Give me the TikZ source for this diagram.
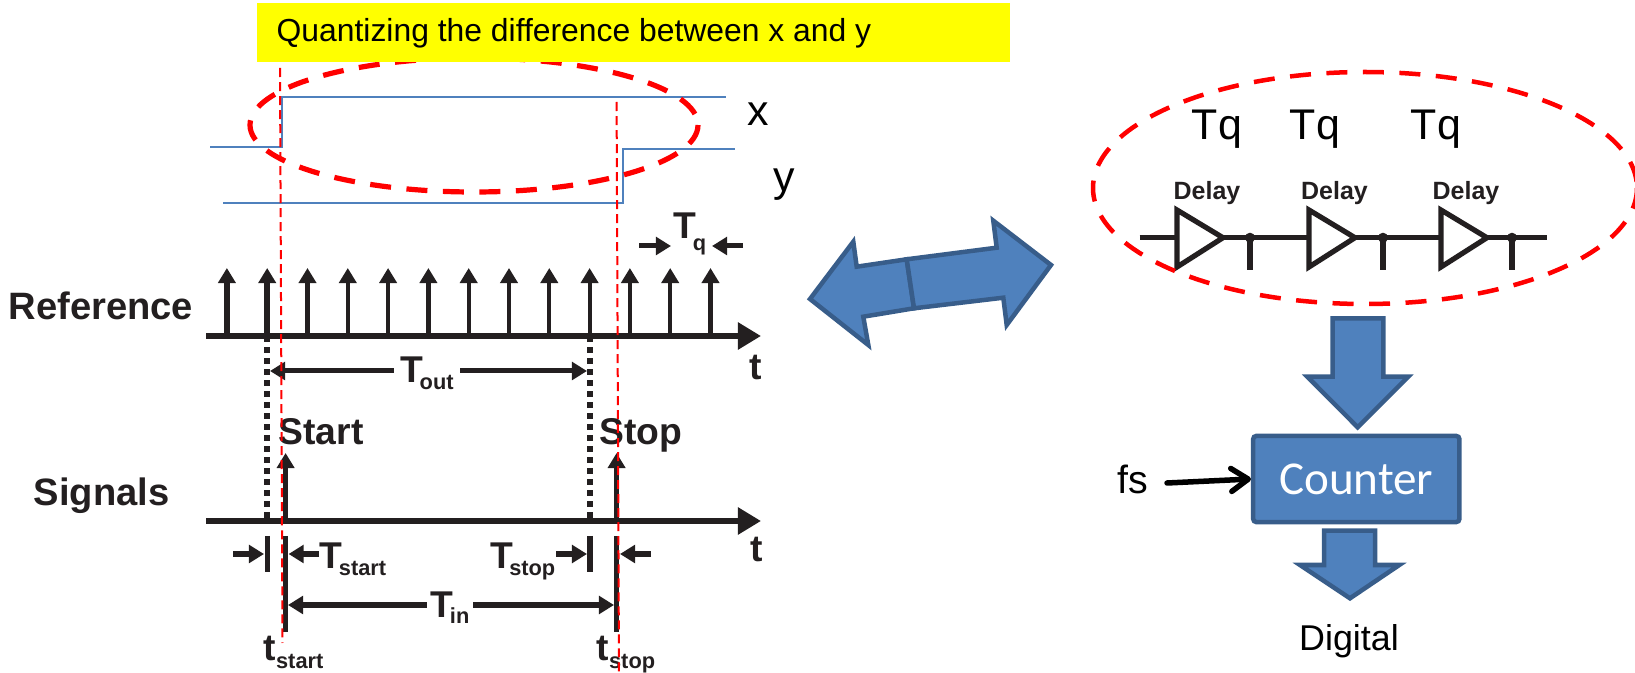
\documentclass[tikz,border=0pt]{standalone}
\usepackage{fontspec}
\setmainfont{Liberation Sans}
\newfontfamily\counterfont{Carlito}
\usetikzlibrary{arrows.meta}

\definecolor{inkdark}{HTML}{231F20}
\definecolor{blockblue}{HTML}{4F81BD}
\definecolor{blockedge}{HTML}{385D8A}
\definecolor{titleyellow}{HTML}{FFFF00}
\definecolor{ovalred}{HTML}{FF0000}

\newcommand{\lowsub}[2][0.7mm]{\raisebox{-#1}{\fontsize{6.2}{7}\selectfont #2}}
\newcommand{\Tlabel}[2][0.7mm]{T\kern-0.35mm\lowsub[#1]{#2}}

\tikzset{
    every node/.style={inner sep=0, text=inkdark},
    boldlabel/.style={font=\fontsize{10.6}{12}\bfseries\selectfont},
    sidelabel/.style={font=\fontsize{10.85}{12}\bfseries\selectfont},
    plainlabel/.style={font=\fontsize{12.2}{14}\selectfont, text=black},
    delaylabel/.style={font=\fontsize{7.1}{9}\bfseries\selectfont},
    axisline/.style={inkdark, line width=0.55mm, -{Triangle[length=2.3mm,width=2.6mm]}},
    pulseline/.style={inkdark, -{Triangle[length=1.5mm,width=1.7mm]}},
    dimline/.style={inkdark, line width=0.5mm, -{Triangle[length=1.5mm,width=1.75mm]}},
    barline/.style={inkdark, line width=0.52mm},
    dotline/.style={inkdark, line width=0.6mm, dash pattern=on 0.55mm off 0.55mm},
    waveline/.style={blockblue, line width=0.2mm},
    redthin/.style={ovalred, line width=0.2mm, dash pattern=on 0.9mm off 0.5mm},
    redoval/.style={ovalred, line width=0.45mm, dash pattern=on 2.1mm off 1.55mm},
    blockarrow/.style={fill=blockblue, draw=blockedge, line width=0.45mm},
}

\begin{document}
\begin{tikzpicture}[x=0.01cm, y=-0.01cm]
    \useasboundingbox (0,0) rectangle (1635,673);

    % waveforms
    \draw[waveline] (210,147) -- (282,147) -- (282,97) -- (726,97);
    \draw[waveline] (223,203) -- (623,203) -- (623,149) -- (735,149);
    \draw[redoval, line width=0.52mm] (474,125) ellipse [x radius=224, y radius=67];

    \fill[titleyellow] (257,3) rectangle (1010,62);
    \node[anchor=base west, font=\fontsize{9.06}{11}\selectfont, text=black] (title) at (276,42) {Quantizing the difference between x and y};
    \node[plainlabel, anchor=base] (xlabel) at (758,126) {x};
    \node[plainlabel, anchor=base] (ylabel) at (784,192) {y};

    % reference pulses
    \coordinate (refstart) at (206,336);
    \coordinate (refend) at (761,336);
    \draw[axisline] (refstart) -- (refend);
    \foreach \n in {0,...,12} {
        \pgfmathsetmacro{\pw}{\n<2 ? 0.55 : 0.42}
        \coordinate (pulse\n) at ({226.9+40.3*\n},336);
        \draw[pulseline, line width=\pw mm] (pulse\n) -- ++(0,-68);
    }
    \node[sidelabel, anchor=base west] (reference) at (8,320) {Reference};
    \node[boldlabel, anchor=base] (treference) at (756,380) {t};

    \node[boldlabel, anchor=base west] (tq) at (673,239) {\Tlabel[1.1mm]{q}};
    \coordinate (tqleft) at (639,246);
    \coordinate (tqlefttip) at (671,246);
    \coordinate (tqright) at (743,246);
    \coordinate (tqrighttip) at (712,246);
    \draw[dimline] (tqleft) -- (tqlefttip);
    \draw[dimline] (tqright) -- (tqrighttip);

    % dotted guides
    \coordinate (guideA) at (267,521);
    \coordinate (guideB) at (590,521);
    \draw[dotline] (267,336) -- (guideA);
    \draw[dotline] (590,336) -- (guideB);

    \node[boldlabel, anchor=base, inner xsep=0.6mm] (tout) at (427,383) {\Tlabel{out}};
    \coordinate (toutleft) at (270,371);
    \coordinate (toutright) at (587,371);
    \draw[dimline] (tout.west |- toutleft) -- (toutleft);
    \draw[dimline] (tout.east |- toutright) -- (toutright);

    % signals
    \coordinate (sigstart) at (206,521);
    \coordinate (sigend) at (761,521);
    \draw[axisline] (sigstart) -- (sigend);
    \coordinate (startbase) at (285.6,521);
    \coordinate (stopbase) at (616.6,521);
    \draw[pulseline, line width=0.45mm] (startbase) -- ++(0,-68);
    \draw[pulseline, line width=0.45mm] (stopbase) -- ++(0,-68);
    \node[boldlabel, anchor=base west] (startlabel) at (278,445) {Start};
    \node[boldlabel, anchor=base west] (stoplabel) at (599,445) {Stop};
    \node[sidelabel, anchor=base west] (signals) at (33,505) {Signals};
    \node[boldlabel, anchor=base] (tsignals) at (757,561) {t};

    % bars under the axis
    \draw[barline] (267.5,536) -- (267.5,572);
    \draw[barline] (590,536) -- (590,572);
    \draw[barline] (285.6,536) -- (285.6,632);
    \draw[barline] (616.6,536) -- (616.6,632);

    \node[boldlabel, anchor=base west] (tstart) at (319,568) {\Tlabel{start}};
    \node[boldlabel, anchor=base east] (tstop) at (556,568) {\Tlabel{stop}};
    \coordinate (startout) at (233,554);
    \coordinate (startoutB) at (264,554);
    \coordinate (startin) at (288.6,554);
    \coordinate (stopin) at (587,554);
    \coordinate (stopout) at (651,554);
    \coordinate (stopoutB) at (620,554);
    \draw[dimline] (startout) -- (startoutB);
    \draw[dimline] (tstart.west |- startin) -- (startin);
    \draw[dimline] (tstop.east |- stopin) -- (stopin);
    \draw[dimline] (stopout) -- (stopoutB);

    \node[boldlabel, anchor=base, inner xsep=0.3mm] (tin) at (450,617) {\Tlabel[0.6mm]{in}};
    \coordinate (tinleft) at (288,605);
    \coordinate (tinright) at (614,605);
    \draw[dimline] (tin.west |- tinleft) -- (tinleft);
    \draw[dimline] (tin.east |- tinright) -- (tinright);

    \node[boldlabel, anchor=base west] (tlstart) at (263,661) {t\lowsub{start}};
    \node[boldlabel, anchor=base west] (tlstop) at (596,661) {t\lowsub{stop}};

    \draw[redthin] (280,68) -- (282.5,643);
    \draw[redthin] (616.6,102) -- (619,673);

    % double arrow
    \draw[blockarrow, line join=miter] (906.7,259.3) -- (856.7,266.7) -- (853.3,241.7) -- (810,299) -- (868.3,345) -- (863.3,316.7) -- (914,308.3) -- cycle;
    \draw[blockarrow, line join=miter] (906.7,259.3) -- (996.7,247.7) -- (993.3,220.7) -- (1051,265) -- (1006.7,325) -- (1003.3,297.7) -- (914,308.3) -- cycle;

    % delay line
    \coordinate (linestart) at (1139.5,237.7);
    \coordinate (lineend) at (1547,237.7);
    \draw[barline] (linestart) -- (lineend);
    \foreach \tx/\dx/\lx/\tqx/\nm in {1177/1250/1207/1217/A, 1309/1383/1334.5/1315/B, 1441/1512/1466/1436/C} {
        \draw[barline, fill=white] (\tx,210) -- (\tx+46,237.7) -- (\tx,267) -- cycle;
        \draw[barline] (\dx,237.7) -- (\dx,270);
        \fill[inkdark] (\dx,237.7) circle (0.5mm);
        \node[delaylabel, anchor=base] (delay\nm) at (\lx,200) {Delay};
        \node[plainlabel, anchor=base] (tq\nm) at (\tqx,140) {Tq};
    }
    \draw[redoval] (1365,188) ellipse [x radius=272, y radius=116];

    % counter part
    \draw[blockarrow, line join=miter] (1332.7,318.3) -- (1383.3,318.3) -- (1383.3,376.7) -- (1408.3,376.7) -- (1357.7,427.3) -- (1307.3,376.7) -- (1332.7,376.7) -- cycle;
    \node[draw=blockedge, fill=blockblue, line width=0.45mm, rounded corners=0.3mm, minimum width=2.06cm, minimum height=0.86cm, font=\counterfont\fontsize{13.4}{15}\selectfont, text=white] (counter) at (1356.3,479) {\raisebox{-0.2mm}{Counter}};
    \draw[blockarrow, line join=miter] (1324,530.7) -- (1375,530.7) -- (1375,565) -- (1399.3,565) -- (1350,598.3) -- (1300,565) -- (1324,565) -- cycle;
    \node[anchor=base, font=\fontsize{10.2}{12}\selectfont, text=black] (digital) at (1349,650.7) {Digital};
    \node[anchor=base west, font=\fontsize{11.2}{13}\selectfont, text=black] (fs) at (1117,494) {fs};
    \coordinate (fsstart) at (1167,483);
    \draw[black, line width=0.55mm, line cap=round, -{Straight Barb[length=1.7mm,width=2.3mm,round]}] (fsstart) -- (counter.west);
\end{tikzpicture}
\end{document}
